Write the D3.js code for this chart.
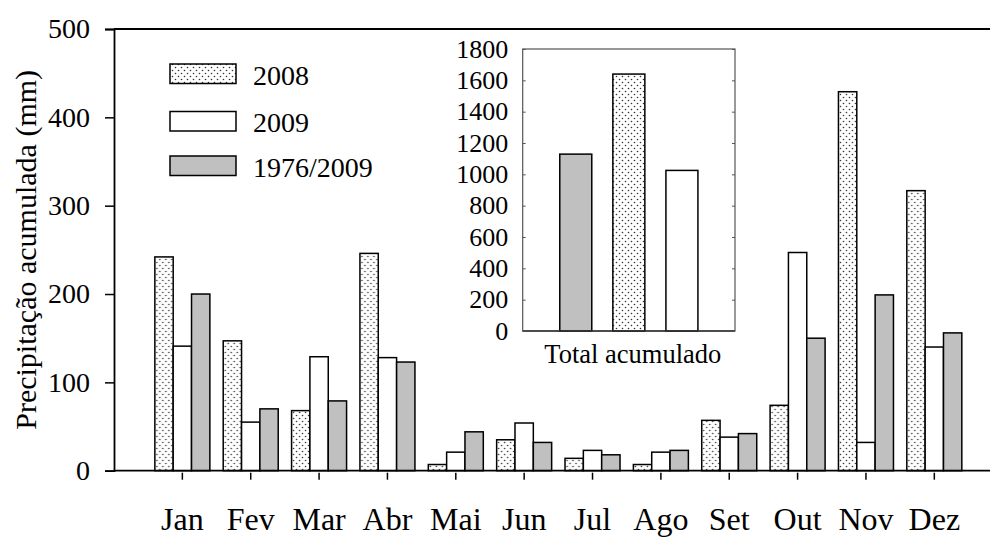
<!DOCTYPE html>
<html>
<head>
<meta charset="utf-8">
<script src="https://cdn.jsdelivr.net/npm/d3@7"></script>
<style>
  body { margin: 0; background: #fff; }
  svg { display: block; }
  svg text.serif { font-family: 'Liberation Serif', Tinos, serif !important; }
</style>
</head>
<body>
<div id="chart"></div>
<script>

// Monthly data.
const months = [ 'Jan', 'Fev', 'Mar', 'Abr', 'Mai', 'Jun', 'Jul', 'Ago', 'Set', 'Out', 'Nov', 'Dez' ];
const series = [ '2008', '2009', '1976/2009' ];
const values_2008 = [ 242, 147, 68, 246, 7, 35, 14, 7, 57, 74, 429, 317 ];
const values_2009 = [ 141, 55, 129, 128, 21, 54, 23, 21, 38, 247, 32, 140 ];
const values_normal = [ 200, 70, 79, 123, 44, 32, 18, 23, 42, 150, 199, 156 ];
const y_ticks = [ 0, 100, 200, 300, 400, 500 ];

// Inset: total per period.
const total_keys = [ '1976/2009', '2008', '2009' ];
const total_values = [ 1129, 1640, 1025 ];
const inset_ticks = [ 0, 200, 400, 600, 800, 1000, 1200, 1400, 1600, 1800 ];

const width = 990, height = 537;
const serif_face = "'Liberation Serif', Tinos, serif";
const fills = { '2008': 'url(#dots)', '2009': '#ffffff', '1976/2009': '#c0c0c0' };

// Text helper: family and size as inline style.
function set_font( sel, size ){
  return sel
    .classed( 'serif', true )
    .attr( 'font-family', 'Liberation Serif' )
    .style( 'font-family', serif_face, 'important' )
    .style( 'font-size', size + 'px' );
}

const svg = d3.select( '#chart' ).append( 'svg' )
  .attr( 'width', width )
  .attr( 'height', height );

// Dotted fill used for 2008.
const pattern = svg.append( 'defs' ).append( 'pattern' )
  .attr( 'id', 'dots' )
  .attr( 'patternUnits', 'userSpaceOnUse' )
  .attr( 'width', 6 )
  .attr( 'height', 6 );
pattern.append( 'rect' ).attr( 'width', 6 ).attr( 'height', 6 ).attr( 'fill', '#fff' );
pattern.append( 'circle' ).attr( 'cx', 1.5 ).attr( 'cy', 1.5 ).attr( 'r', 0.8 ).attr( 'fill', '#333' );
pattern.append( 'circle' ).attr( 'cx', 4.5 ).attr( 'cy', 4.5 ).attr( 'r', 0.8 ).attr( 'fill', '#333' );

// ---- Main chart ----
const plot = { left: 114, top: 29, bottom: 470.7 };
const step = 68.36;

const x_scale = d3.scaleBand()
  .domain( months )
  .range( [ plot.left + step / 2, plot.left + step / 2 + step * months.length ] );
const x_sub = d3.scaleBand()
  .domain( series )
  .range( [ -27.5, 27.5 ] );
const y_scale = d3.scaleLinear()
  .domain( [ 0, 500 ] )
  .range( [ plot.bottom, plot.top ] );

const table = months.map( function( m, i ){
  return { month: m, values: [ values_2008[i], values_2009[i], values_normal[i] ] };
} );

// Bars
svg.append( 'g' )
  .selectAll( 'g' )
  .data( table )
  .enter().append( 'g' )
    .attr( 'transform', function( d ){ return 'translate(' + ( x_scale( d.month ) + x_scale.bandwidth() / 2 ) + ',0)'; } )
  .selectAll( 'rect' )
  .data( function( d ){ return series.map( function( s, j ){ return { key: s, value: d.values[j] }; } ); } )
  .enter().append( 'rect' )
    .attr( 'x', function( d ){ return x_sub( d.key ); } )
    .attr( 'y', function( d ){ return y_scale( d.value ); } )
    .attr( 'width', x_sub.bandwidth() )
    .attr( 'height', function( d ){ return plot.bottom - y_scale( d.value ); } )
    .attr( 'fill', function( d ){ return fills[ d.key ]; } )
    .attr( 'stroke', '#000' )
    .attr( 'stroke-width', 1.5 );

// Frame: top line and bottom axis line run off the right edge.
svg.append( 'line' )
  .attr( 'x1', plot.left ).attr( 'x2', width )
  .attr( 'y1', plot.top ).attr( 'y2', plot.top )
  .attr( 'stroke', '#000' ).attr( 'stroke-width', 1.8 );
svg.append( 'line' )
  .attr( 'x1', plot.left ).attr( 'x2', width )
  .attr( 'y1', plot.bottom ).attr( 'y2', plot.bottom )
  .attr( 'stroke', '#000' ).attr( 'stroke-width', 1.8 );

// Y axis
const y_axis = svg.append( 'g' )
  .attr( 'transform', 'translate(' + plot.left + ',0)' )
  .call( d3.axisLeft( y_scale ).tickValues( y_ticks ).tickSize( 9 ).tickPadding( 15 ) );
y_axis.attr( 'font-family', null ).attr( 'font-size', null );
y_axis.select( '.domain' ).attr( 'stroke-width', 1.8 );
y_axis.selectAll( '.tick line' ).attr( 'stroke-width', 1.5 );
set_font( y_axis.selectAll( 'text' ), 28 ).attr( 'fill', '#000' );

// X axis: ticks hang a little below the axis line.
const x_axis = svg.append( 'g' )
  .attr( 'transform', 'translate(0,' + ( plot.bottom + 2 ) + ')' )
  .call( d3.axisBottom( x_scale ).tickSize( 7 ) );
x_axis.attr( 'font-family', null ).attr( 'font-size', null );
x_axis.select( '.domain' ).remove();
x_axis.selectAll( '.tick line' ).attr( 'stroke-width', 1.5 );
set_font( x_axis.selectAll( 'text' ), 32 )
  .attr( 'fill', '#000' )
  .attr( 'dy', 0 )
  .attr( 'y', 530 - plot.bottom - 2 );

// Y axis title
set_font( svg.append( 'text' ), 30 )
  .attr( 'transform', 'translate(36,' + ( ( plot.top + plot.bottom ) / 2 ) + ') rotate(-90)' )
  .attr( 'text-anchor', 'middle' )
  .text( 'Precipitação acumulada (mm)' );

// Legend
const legend = svg.append( 'g' );
const legend_rows = [ 64, 111.5, 156 ];
legend.selectAll( 'rect' )
  .data( series )
  .enter().append( 'rect' )
    .attr( 'x', 170 )
    .attr( 'y', function( d, i ){ return legend_rows[i]; } )
    .attr( 'width', 66 )
    .attr( 'height', 19.5 )
    .attr( 'fill', function( d ){ return fills[ d ]; } )
    .attr( 'stroke', '#000' )
    .attr( 'stroke-width', 1.5 );
set_font( legend.selectAll( 'text' )
  .data( series )
  .enter().append( 'text' ), 28 )
    .attr( 'x', 253 )
    .attr( 'y', function( d, i ){ return legend_rows[i] + 20.5; } )
    .text( function( d ){ return d; } );

// ---- Inset: total accumulated ----
const inset = { left: 522.7, right: 735, top: 49, bottom: 331 };

const ix_scale = d3.scalePoint()
  .domain( total_keys )
  .range( [ inset.left, inset.right ] )
  .padding( 1 );
const iy_scale = d3.scaleLinear()
  .domain( [ 0, 1800 ] )
  .range( [ inset.bottom, inset.top ] );

svg.append( 'rect' )
  .attr( 'x', inset.left ).attr( 'y', inset.top )
  .attr( 'width', inset.right - inset.left )
  .attr( 'height', inset.bottom - inset.top )
  .attr( 'fill', '#fff' )
  .attr( 'stroke', '#555' )
  .attr( 'stroke-width', 1.2 );

const bar_w = 32;
svg.append( 'g' )
  .selectAll( 'rect' )
  .data( total_keys )
  .enter().append( 'rect' )
    .attr( 'x', function( d ){ return ix_scale( d ) - bar_w / 2; } )
    .attr( 'y', function( d, i ){ return iy_scale( total_values[i] ); } )
    .attr( 'width', bar_w )
    .attr( 'height', function( d, i ){ return inset.bottom - iy_scale( total_values[i] ); } )
    .attr( 'fill', function( d ){ return fills[ d ]; } )
    .attr( 'stroke', '#000' )
    .attr( 'stroke-width', 1.5 );

// Bottom line of the inset drawn again on top of the bars.
svg.append( 'line' )
  .attr( 'x1', inset.left ).attr( 'x2', inset.right )
  .attr( 'y1', inset.bottom ).attr( 'y2', inset.bottom )
  .attr( 'stroke', '#333' ).attr( 'stroke-width', 1.5 );

const iy_axis = svg.append( 'g' )
  .attr( 'transform', 'translate(' + inset.left + ',0)' )
  .call( d3.axisLeft( iy_scale ).tickValues( inset_ticks ).tickFormat( d3.format( 'd' ) ).tickSize( -3 ).tickPadding( 14.5 ) );
iy_axis.attr( 'font-family', null ).attr( 'font-size', null );
iy_axis.select( '.domain' ).remove();
iy_axis.selectAll( '.tick line' ).attr( 'stroke', '#555' );
set_font( iy_axis.selectAll( 'text' ), 26 ).attr( 'fill', '#000' );

const iy_axis_right = svg.append( 'g' )
  .attr( 'transform', 'translate(' + inset.right + ',0)' )
  .call( d3.axisRight( iy_scale ).tickValues( inset_ticks ).tickSize( -3 ).tickFormat( '' ) );
iy_axis_right.select( '.domain' ).remove();
iy_axis_right.selectAll( '.tick line' ).attr( 'stroke', '#555' );

set_font( svg.append( 'text' ), 26.5 )
  .attr( 'x', ( inset.left + inset.right ) / 2 + 4 )
  .attr( 'y', 363 )
  .attr( 'text-anchor', 'middle' )
  .text( 'Total acumulado' );

</script>
</body>
</html>
